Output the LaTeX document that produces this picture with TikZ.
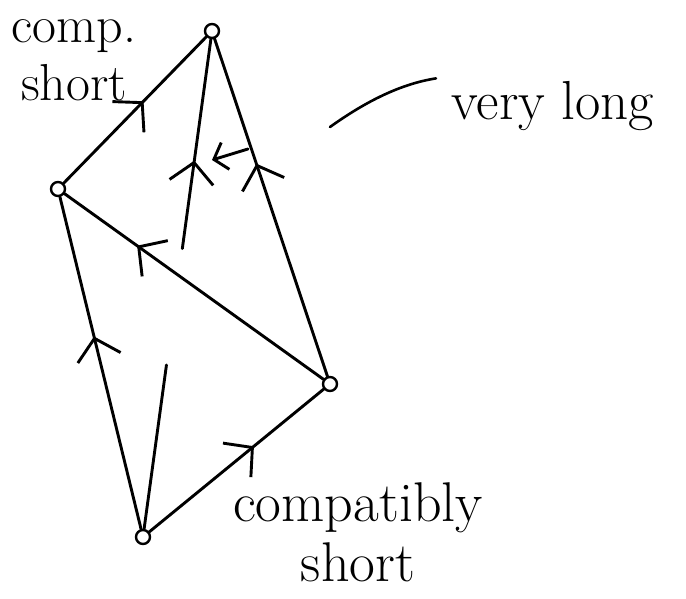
\documentclass[tikz,border=0pt]{standalone}
\usetikzlibrary{arrows.meta,decorations.markings,calc}

\begin{document}
\begin{tikzpicture}[x=1pt,y=-1pt,
  line width=2.9pt, line cap=round,
  v/.style={draw,circle,minimum size=14pt,inner sep=0pt,line width=2.4pt},
  tipat/.style={postaction={decorate},decoration={markings,
    mark=at position #1 with {\arrow{Straight Barb[length=20pt,width=44pt,line width=2.9pt]}}}},
  lbl/.style={align=center,inner sep=0pt}]
\useasboundingbox (0,0) rectangle (686,599);
% vertices
\node[v] (t) at (212,31) {};
\node[v] (l) at (58,189) {};
\node[v] (r) at (330,384) {};
\node[v] (b) at (143,537) {};
% edges
\draw[tipat=0.58] (b) -- (l);
\draw[tipat=0.6] (b) -- (r);
\draw[tipat=0.56] (l) -- (t);
\draw[tipat=0.72] (r) -- (l);
\draw[tipat=0.63] (r) -- (t);
% long edge, broken where it passes under r--l
\coordinate (g1) at ($(b)!0.34!(t)$);
\coordinate (g2) at ($(b)!0.57!(t)$);
\draw (b) -- (g1);
\draw[tipat=0.42] (g2) -- (t);
% 2-cell
\coordinate (c1) at (248,149);
\coordinate (c2) at (212,160);
\draw[-{Straight Barb[length=12pt,width=28pt]}] (c1) -- (c2);
% labels
\node[lbl,font=\fontsize{52}{58}\selectfont] (cs) at (74,60) {comp.\\short};
\node[lbl,font=\fontsize{55}{64}\selectfont,anchor=base west] (vl) at (450,120) {very long};
\coordinate (ld) at (330,127);
\draw[line width=2.6pt] ([xshift=-14pt,yshift=2pt]vl.north west) .. controls (400,84) and (365,102) .. (ld);
\node[lbl,font=\fontsize{56}{60}\selectfont] (cb) at (358,532) {compatibly\\short};
\end{tikzpicture}
\end{document}
